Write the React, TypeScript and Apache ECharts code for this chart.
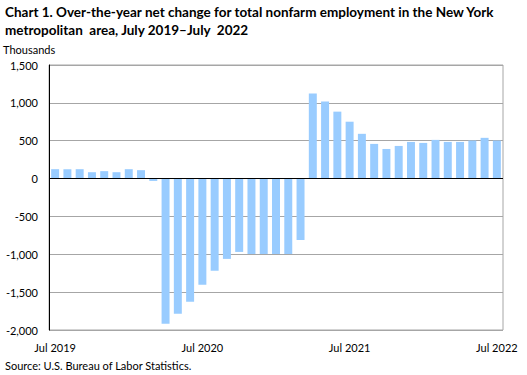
import React, { useEffect, useRef } from "react";
import * as echarts from "echarts";

const months = [
  "Jul 2019","Aug 2019","Sep 2019","Oct 2019","Nov 2019","Dec 2019",
  "Jan 2020","Feb 2020","Mar 2020","Apr 2020","May 2020","Jun 2020",
  "Jul 2020","Aug 2020","Sep 2020","Oct 2020","Nov 2020","Dec 2020",
  "Jan 2021","Feb 2021","Mar 2021","Apr 2021","May 2021","Jun 2021",
  "Jul 2021","Aug 2021","Sep 2021","Oct 2021","Nov 2021","Dec 2021",
  "Jan 2022","Feb 2022","Mar 2022","Apr 2022","May 2022","Jun 2022",
  "Jul 2022",
];

const netChange = [
  124, 124, 124, 84, 98, 84, 124, 111, -31,
  -1917, -1785, -1627, -1404, -1219, -1061, -969, -996, -996, -996, -996, -811,
  1124, 1018, 884, 751, 591, 458, 391, 431, 484, 471, 511, 484, 484, 502, 538, 502,
];

const yTicks = { min: -2000, max: 1500, interval: 500 };

const titleText =
  "Chart 1. Over-the-year net change for total nonfarm employment in the New York\nmetropolitan  area, July 2019\u2013July  2022";

const FONT = "Lato, 'Open Sans', sans-serif";

export default function App() {
  const ref = useRef<HTMLDivElement>(null);
  useEffect(() => {
    if (!ref.current) return;
    const chart = echarts.init(ref.current, undefined, { renderer: "svg" });
    chart.setOption({
      animation: false,
      backgroundColor: "#ffffff",
      textStyle: { fontFamily: FONT },
      title: [
        {
          text: titleText,
          left: 5,
          top: 3,
          padding: 0,
          textStyle: { fontFamily: FONT, fontSize: 13.5, fontWeight: "bold", color: "#000", lineHeight: 18 },
        },
      ],
      graphic: [
        { type: "text", left: 3, top: 44, style: { text: "Thousands", font: `11px ${FONT}`, fill: "#000" } },
        { type: "text", left: 5, top: 360, style: { text: "Source: U.S. Bureau of Labor Statistics.", font: `11px ${FONT}`, fill: "#000" } },
      ],
      grid: {
        left: 49,
        right: 24,
        top: 65,
        bottom: 45,
        show: true,
        borderColor: "#a6a6a6",
        borderWidth: 1,
        containLabel: false,
      },
      xAxis: {
        type: "category",
        data: months,
        axisLine: { show: false },
        axisTick: { show: false },
        axisLabel: {
          interval: 11,
          margin: 12,
          color: "#000",
          fontSize: 11,
          fontFamily: FONT,
          formatter: (v: string) => v,
        },
      },
      yAxis: {
        type: "value",
        min: yTicks.min,
        max: yTicks.max,
        interval: yTicks.interval,
        axisLine: { show: true, lineStyle: { color: "#000", width: 1 } },
        axisTick: { show: false },
        axisLabel: {
          color: "#000",
          fontSize: 11,
          fontFamily: FONT,
          margin: 11,
          formatter: (v: number) => v.toLocaleString("en-US"),
        },
        splitLine: { show: true, lineStyle: { color: "#a6a6a6", width: 1 } },
      },
      series: [
        {
          type: "bar",
          data: netChange,
          barWidth: "65%",
          itemStyle: { color: "#99ccff" },
          markLine: {
            silent: true,
            symbol: "none",
            label: { show: false },
            lineStyle: { color: "#000", width: 1, type: "solid" },
            data: [{ yAxis: 0 }],
          },
        },
      ],
    });
    return () => chart.dispose();
  }, []);
  return <div ref={ref} style={{ width: 527, height: 375, position: "absolute", left: 0, top: 0 }} />;
}
